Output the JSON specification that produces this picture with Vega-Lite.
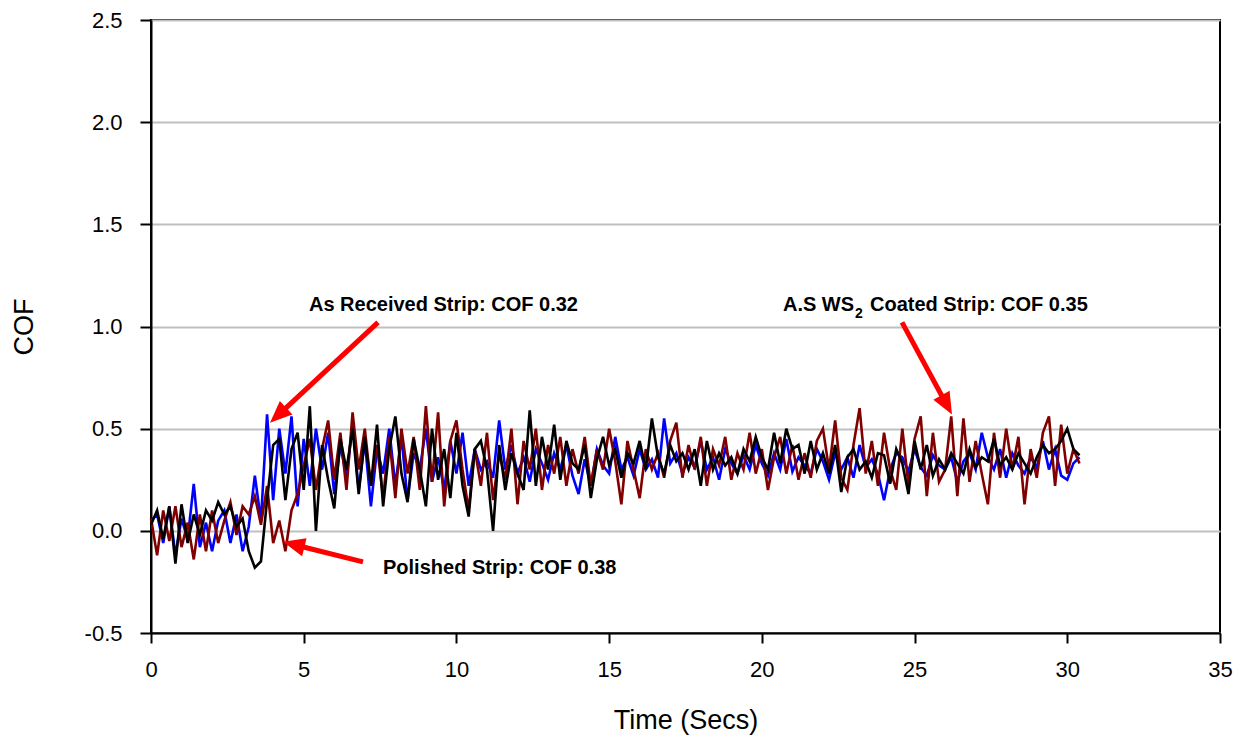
{
  "$schema": "https://vega.github.io/schema/vega-lite/v6.json",
  "width": 1069,
  "height": 613,
  "autosize": {"type": "none"},
  "padding": {"left": 151, "top": 20, "right": 34, "bottom": 107},
  "background": "white",
  "config": {"view": {"stroke": "black", "strokeWidth": 2}, "font": "Liberation Sans"},
  "datasets": {
    "cof": [
      {"t":0.0,"b":0.05,"k":0.03,"r":0.06},{"t":0.2,"b":0.08,"k":0.10,"r":-0.12},{"t":0.4,"b":-0.06,"k":-0.04,"r":0.10},{"t":0.6,"b":0.12,"k":0.12,"r":-0.05},{"t":0.8,"b":-0.12,"k":-0.16,"r":0.12},
      {"t":1.0,"b":0.06,"k":0.13,"r":-0.08},{"t":1.2,"b":-0.04,"k":-0.06,"r":0.04},{"t":1.4,"b":0.23,"k":0.08,"r":-0.14},{"t":1.6,"b":-0.08,"k":-0.02,"r":0.08},{"t":1.8,"b":0.04,"k":0.10,"r":-0.10},
      {"t":2.0,"b":-0.10,"k":0.05,"r":0.10},{"t":2.2,"b":0.05,"k":0.14,"r":-0.06},{"t":2.4,"b":0.10,"k":0.08,"r":0.05},{"t":2.6,"b":-0.06,"k":0.12,"r":0.14},{"t":2.8,"b":0.08,"k":0.02,"r":-0.02},
      {"t":3.0,"b":-0.10,"k":0.06,"r":0.12},{"t":3.2,"b":0.02,"k":-0.10,"r":0.08},{"t":3.4,"b":0.27,"k":-0.18,"r":0.17},{"t":3.6,"b":0.05,"k":-0.15,"r":0.03},{"t":3.8,"b":0.57,"k":0.15,"r":0.22},
      {"t":4.0,"b":0.15,"k":0.42,"r":-0.06},{"t":4.2,"b":0.50,"k":0.45,"r":0.05},{"t":4.4,"b":0.28,"k":0.15,"r":-0.10},{"t":4.6,"b":0.56,"k":0.40,"r":0.10},{"t":4.8,"b":0.12,"k":0.48,"r":0.18},
      {"t":5.0,"b":0.45,"k":0.20,"r":0.32},{"t":5.2,"b":0.22,"k":0.61,"r":0.45},{"t":5.4,"b":0.50,"k":0.00,"r":0.20},{"t":5.6,"b":0.30,"k":0.42,"r":0.40},{"t":5.8,"b":0.48,"k":0.25,"r":0.54},
      {"t":6.0,"b":0.18,"k":0.11,"r":0.25},{"t":6.2,"b":0.42,"k":0.45,"r":0.48},{"t":6.4,"b":0.26,"k":0.30,"r":0.20},{"t":6.6,"b":0.52,"k":0.50,"r":0.58},{"t":6.8,"b":0.20,"k":0.18,"r":0.30},
      {"t":7.0,"b":0.44,"k":0.46,"r":0.50},{"t":7.2,"b":0.12,"k":0.22,"r":0.22},{"t":7.4,"b":0.40,"k":0.52,"r":0.42},{"t":7.6,"b":0.28,"k":0.12,"r":0.16},{"t":7.8,"b":0.50,"k":0.40,"r":0.46},
      {"t":8.0,"b":0.22,"k":0.56,"r":0.16},{"t":8.2,"b":0.46,"k":0.28,"r":0.50},{"t":8.4,"b":0.15,"k":0.14,"r":0.28},{"t":8.6,"b":0.38,"k":0.45,"r":0.46},{"t":8.8,"b":0.30,"k":0.30,"r":0.20},
      {"t":9.0,"b":0.50,"k":0.12,"r":0.61},{"t":9.2,"b":0.24,"k":0.50,"r":0.24},{"t":9.4,"b":0.36,"k":0.25,"r":0.58},{"t":9.6,"b":0.20,"k":0.40,"r":0.12},{"t":9.8,"b":0.44,"k":0.16,"r":0.44},
      {"t":10.0,"b":0.28,"k":0.48,"r":0.54},{"t":10.2,"b":0.48,"k":0.22,"r":0.30},{"t":10.4,"b":0.22,"k":0.07,"r":0.10},{"t":10.6,"b":0.40,"k":0.40,"r":0.40},{"t":10.8,"b":0.30,"k":0.44,"r":0.22},
      {"t":11.0,"b":0.34,"k":0.30,"r":0.48},{"t":11.2,"b":0.26,"k":0.00,"r":0.15},{"t":11.4,"b":0.54,"k":0.42,"r":0.38},{"t":11.6,"b":0.30,"k":0.20,"r":0.25},{"t":11.8,"b":0.42,"k":0.38,"r":0.50},
      {"t":12.0,"b":0.28,"k":0.28,"r":0.13},{"t":12.2,"b":0.36,"k":0.20,"r":0.44},{"t":12.4,"b":0.24,"k":0.59,"r":0.30},{"t":12.6,"b":0.40,"k":0.22,"r":0.50},{"t":12.8,"b":0.33,"k":0.46,"r":0.20},
      {"t":13.0,"b":0.25,"k":0.30,"r":0.42},{"t":13.2,"b":0.38,"k":0.52,"r":0.28},{"t":13.4,"b":0.30,"k":0.25,"r":0.46},{"t":13.6,"b":0.42,"k":0.44,"r":0.22},{"t":13.8,"b":0.27,"k":0.33,"r":0.40},
      {"t":14.0,"b":0.18,"k":0.30,"r":0.28},{"t":14.2,"b":0.35,"k":0.42,"r":0.46},{"t":14.4,"b":0.22,"k":0.16,"r":0.22},{"t":14.6,"b":0.40,"k":0.35,"r":0.40},{"t":14.8,"b":0.32,"k":0.46,"r":0.30},
      {"t":15.0,"b":0.28,"k":0.32,"r":0.50},{"t":15.2,"b":0.46,"k":0.40,"r":0.34},{"t":15.4,"b":0.30,"k":0.26,"r":0.13},{"t":15.6,"b":0.36,"k":0.38,"r":0.44},{"t":15.8,"b":0.27,"k":0.33,"r":0.30},
      {"t":16.0,"b":0.40,"k":0.44,"r":0.16},{"t":16.2,"b":0.30,"k":0.30,"r":0.40},{"t":16.4,"b":0.35,"k":0.55,"r":0.30},{"t":16.6,"b":0.26,"k":0.36,"r":0.38},{"t":16.8,"b":0.55,"k":0.28,"r":0.26},
      {"t":17.0,"b":0.33,"k":0.42,"r":0.44},{"t":17.2,"b":0.38,"k":0.34,"r":0.53},{"t":17.4,"b":0.28,"k":0.38,"r":0.26},{"t":17.6,"b":0.36,"k":0.30,"r":0.42},{"t":17.8,"b":0.31,"k":0.40,"r":0.30},
      {"t":18.0,"b":0.44,"k":0.22,"r":0.46},{"t":18.2,"b":0.30,"k":0.44,"r":0.22},{"t":18.4,"b":0.36,"k":0.30,"r":0.40},{"t":18.6,"b":0.25,"k":0.38,"r":0.32},{"t":18.8,"b":0.40,"k":0.32,"r":0.46},
      {"t":19.0,"b":0.33,"k":0.36,"r":0.25},{"t":19.2,"b":0.28,"k":0.28,"r":0.38},{"t":19.4,"b":0.37,"k":0.40,"r":0.30},{"t":19.6,"b":0.30,"k":0.34,"r":0.48},{"t":19.8,"b":0.42,"k":0.46,"r":0.28},
      {"t":20.0,"b":0.33,"k":0.36,"r":0.40},{"t":20.2,"b":0.27,"k":0.30,"r":0.20},{"t":20.4,"b":0.38,"k":0.48,"r":0.36},{"t":20.6,"b":0.30,"k":0.33,"r":0.46},{"t":20.8,"b":0.45,"k":0.50,"r":0.28},
      {"t":21.0,"b":0.29,"k":0.40,"r":0.42},{"t":21.2,"b":0.36,"k":0.42,"r":0.25},{"t":21.4,"b":0.32,"k":0.28,"r":0.38},{"t":21.6,"b":0.28,"k":0.44,"r":0.26},{"t":21.8,"b":0.40,"k":0.30,"r":0.44},
      {"t":22.0,"b":0.34,"k":0.38,"r":0.50},{"t":22.2,"b":0.25,"k":0.28,"r":0.30},{"t":22.4,"b":0.38,"k":0.42,"r":0.54},{"t":22.6,"b":0.30,"k":0.19,"r":0.26},{"t":22.8,"b":0.36,"k":0.36,"r":0.20},
      {"t":23.0,"b":0.26,"k":0.40,"r":0.42},{"t":23.2,"b":0.42,"k":0.30,"r":0.60},{"t":23.4,"b":0.31,"k":0.34,"r":0.28},{"t":23.6,"b":0.35,"k":0.26,"r":0.44},{"t":23.8,"b":0.28,"k":0.38,"r":0.22},
      {"t":24.0,"b":0.15,"k":0.37,"r":0.48},{"t":24.2,"b":0.30,"k":0.23,"r":0.30},{"t":24.4,"b":0.38,"k":0.40,"r":0.20},{"t":24.6,"b":0.36,"k":0.33,"r":0.50},{"t":24.8,"b":0.29,"k":0.18,"r":0.22},
      {"t":25.0,"b":0.40,"k":0.44,"r":0.45},{"t":25.2,"b":0.31,"k":0.30,"r":0.56},{"t":25.4,"b":0.27,"k":0.42,"r":0.17},{"t":25.6,"b":0.37,"k":0.27,"r":0.48},{"t":25.8,"b":0.32,"k":0.35,"r":0.24},
      {"t":26.0,"b":0.30,"k":0.30,"r":0.30},{"t":26.2,"b":0.36,"k":0.38,"r":0.56},{"t":26.4,"b":0.24,"k":0.33,"r":0.17},{"t":26.6,"b":0.34,"k":0.28,"r":0.55},{"t":26.8,"b":0.38,"k":0.40,"r":0.24},
      {"t":27.0,"b":0.30,"k":0.31,"r":0.44},{"t":27.2,"b":0.48,"k":0.36,"r":0.28},{"t":27.4,"b":0.36,"k":0.34,"r":0.13},{"t":27.6,"b":0.30,"k":0.45,"r":0.48},{"t":27.8,"b":0.40,"k":0.32,"r":0.26},
      {"t":28.0,"b":0.26,"k":0.36,"r":0.50},{"t":28.2,"b":0.38,"k":0.30,"r":0.30},{"t":28.4,"b":0.32,"k":0.38,"r":0.46},{"t":28.6,"b":0.28,"k":0.33,"r":0.13},{"t":28.8,"b":0.36,"k":0.28,"r":0.40},
      {"t":29.0,"b":0.31,"k":0.36,"r":0.26},{"t":29.2,"b":0.44,"k":0.42,"r":0.48},{"t":29.4,"b":0.30,"k":0.38,"r":0.56},{"t":29.6,"b":0.40,"k":0.40,"r":0.22},{"t":29.8,"b":0.27,"k":0.44,"r":0.52},
      {"t":30.0,"b":0.25,"k":0.50,"r":0.28},{"t":30.2,"b":0.33,"k":0.40,"r":0.40},{"t":30.4,"b":0.36,"k":0.37,"r":0.33}
    ],
    "arrows": [
      {"id":"a1","t1":7.432,"c1":1.020,"t2":4.377,"c2":0.596,"tt":3.896,"tc":0.529},
      {"id":"a2","t1":6.941,"c1":-0.152,"t2":4.957,"c2":-0.078,"tt":4.322,"tc":-0.054},
      {"id":"a3","t1":24.589,"c1":1.020,"t2":25.913,"c2":0.655,"tt":26.225,"tc":0.569}
    ],
    "notes": [
      {"t":5.173,"cof":1.074,"label":"As Received Strip: COF 0.32"},
      {"t":7.596,"cof":-0.211,"label":"Polished Strip: COF 0.38"},
      {"t":20.69,"cof":1.074,"label":"A.S WS"},
      {"t":23.54,"cof":1.074,"label":"Coated Strip: COF 0.35"}
    ],
    "sub": [
      {"t":23.05,"cof":1.044,"label":"2"}
    ]
  },
  "layer": [
    {
      "data": {"name": "cof"},
      "mark": {"type": "line", "color": "#0000ff", "strokeWidth": 2.6},
      "encoding": {
        "x": {"field": "t", "type": "quantitative", "scale": {"domain": [0, 35], "nice": false},
          "axis": {"title": "Time (Secs)", "values": [0,5,10,15,20,25,30,35], "format": "d", "grid": false,
            "domainColor": "black", "domainWidth": 2, "tickColor": "black", "tickWidth": 2, "tickSize": 10,
            "labelFontSize": 22, "labelColor": "black", "labelPadding": 16, "labelFlush": false, "labelOverlap": false,
            "titleFontSize": 27, "titleFontWeight": "normal", "titleColor": "black", "titleY": 95, "titleBaseline": "alphabetic"}},
        "y": {"field": "b", "type": "quantitative", "scale": {"domain": [-0.5, 2.5], "nice": false},
          "axis": {"title": "COF", "values": [-0.5,0,0.5,1,1.5,2,2.5],
            "labelExpr": "datum.value < 0 ? '-' + format(-datum.value, '.1f') : format(datum.value, '.1f')",
            "grid": true, "gridColor": "#c0c0c0", "gridWidth": 2,
            "domainColor": "black", "domainWidth": 2, "tickColor": "black", "tickWidth": 2, "tickSize": 11,
            "labelFontSize": 22, "labelColor": "black", "labelPadding": 18, "labelOverlap": false, "labelFlush": false,
            "titleFontSize": 27, "titleFontWeight": "normal", "titleColor": "black", "titleX": -127, "titleY": 306.5, "titleBaseline": "middle", "titleAlign": "center"}}
      }
    },
    {
      "data": {"name": "cof"},
      "mark": {"type": "line", "color": "#800000", "strokeWidth": 2.6},
      "encoding": {
        "x": {"field": "t", "type": "quantitative"},
        "y": {"field": "r", "type": "quantitative"}
      }
    },
    {
      "data": {"name": "cof"},
      "mark": {"type": "line", "color": "#000000", "strokeWidth": 2.6},
      "encoding": {
        "x": {"field": "t", "type": "quantitative"},
        "y": {"field": "k", "type": "quantitative"}
      }
    },
    {
      "data": {"name": "arrows"},
      "mark": {"type": "rule", "color": "#ff0000", "strokeWidth": 5},
      "encoding": {
        "x": {"field": "t1", "type": "quantitative"},
        "y": {"field": "c1", "type": "quantitative"},
        "x2": {"field": "t2"},
        "y2": {"field": "c2"}
      }
    },
    {
      "data": {"name": "arrows"},
      "transform": [{"filter": "datum.id === 'a1'"}],
      "mark": {"type": "point", "shape": "M0,0L-0.42,1L0.42,1Z", "filled": true, "color": "#ff0000", "opacity": 1, "size": 1936, "angle": 227.2},
      "encoding": {"x": {"field": "tt", "type": "quantitative"}, "y": {"field": "tc", "type": "quantitative"}}
    },
    {
      "data": {"name": "arrows"},
      "transform": [{"filter": "datum.id === 'a2'"}],
      "mark": {"type": "point", "shape": "M0,0L-0.42,1L0.42,1Z", "filled": true, "color": "#ff0000", "opacity": 1, "size": 1936, "angle": 284},
      "encoding": {"x": {"field": "tt", "type": "quantitative"}, "y": {"field": "tc", "type": "quantitative"}}
    },
    {
      "data": {"name": "arrows"},
      "transform": [{"filter": "datum.id === 'a3'"}],
      "mark": {"type": "point", "shape": "M0,0L-0.42,1L0.42,1Z", "filled": true, "color": "#ff0000", "opacity": 1, "size": 1936, "angle": 151.5},
      "encoding": {"x": {"field": "tt", "type": "quantitative"}, "y": {"field": "tc", "type": "quantitative"}}
    },
    {
      "data": {"name": "notes"},
      "mark": {"type": "text", "align": "left", "baseline": "alphabetic", "font": "Liberation Sans", "fontWeight": "bold", "fontSize": 20, "color": "black"},
      "encoding": {"x": {"field": "t", "type": "quantitative"}, "y": {"field": "cof", "type": "quantitative"}, "text": {"field": "label"}}
    },
    {
      "data": {"name": "sub"},
      "mark": {"type": "text", "align": "left", "baseline": "alphabetic", "font": "Liberation Sans", "fontWeight": "bold", "fontSize": 14, "color": "black"},
      "encoding": {"x": {"field": "t", "type": "quantitative"}, "y": {"field": "cof", "type": "quantitative"}, "text": {"field": "label"}}
    }
  ]
}
